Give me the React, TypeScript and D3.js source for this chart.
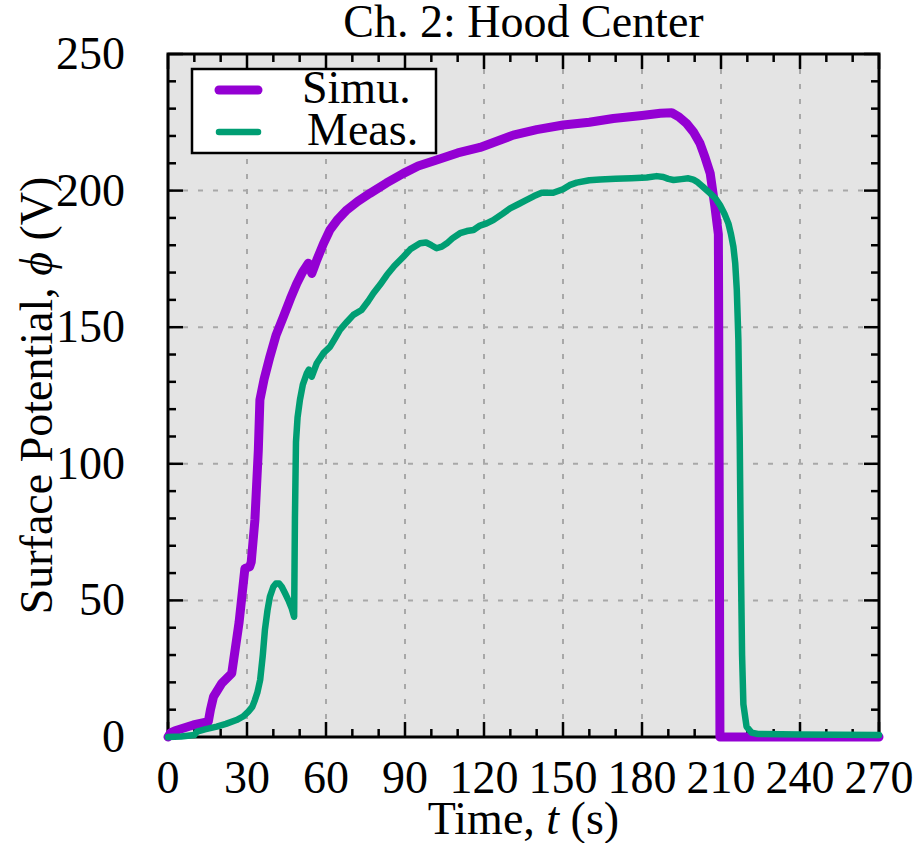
import React from "react";
import * as d3 from "d3";

// ---- Data ----
const simuT = [0, 1, 2.7, 9.6, 15.3, 16.1, 17.3, 20.4, 24.2, 27, 29.2, 31, 31.6, 33, 34.3, 34.9, 36.5, 38.7, 41, 43.8, 46.5, 48.9, 51, 53.3, 54.6, 55.5, 56.5, 59, 61.5, 64.5, 67.9, 72, 76.7, 83, 89.4, 95, 102, 110, 118.5, 131.1, 140, 150.1, 160, 169.1, 180, 187, 191.3, 194, 196.9, 199.5, 202, 204, 205.9, 207.7, 209, 209.1, 209.6, 270];
const simuV = [0, 1.5, 2.3, 4.4, 5.6, 9.9, 14.8, 19.6, 23.3, 42, 61.7, 62.3, 64, 79.4, 105, 123.4, 131, 139.2, 147, 153.8, 160.5, 166, 170, 173.4, 169.7, 172, 174.6, 180.5, 185.6, 189.5, 192.9, 196, 199, 202.8, 206.3, 209, 211.2, 213.8, 215.8, 220.3, 222.3, 224, 225, 226.4, 227.5, 228.3, 228.5, 227, 224.6, 221.5, 217.3, 212, 206.3, 194, 184, 160, 0, 0];

const measT = [0, 5, 10, 11, 14, 18.5, 22, 26, 28.5, 30.5, 32, 33, 34, 35, 36, 36.8, 37.8, 38.7, 40, 41, 42.2, 43.2, 44.5, 45.7, 47, 47.9, 48.2, 48.6, 49.2, 50.1, 51.2, 52.7, 53.5, 54.6, 56.5, 59, 61.5, 63.5, 65.3, 68, 70.4, 73.5, 76, 78, 80.5, 83.1, 86, 89.4, 92, 95.7, 98, 100, 102, 104, 105.9, 108, 110.9, 113.5, 116, 118.5, 121, 123.5, 127, 129.9, 133, 136.2, 139, 141.9, 146.3, 150, 152.5, 155.2, 160, 164.1, 170, 176, 181.8, 185.6, 188.1, 190, 192, 195, 197.6, 199.5, 200.8, 203, 205.9, 208, 209.6, 211.3, 212.8, 213.8, 214.7, 215.4, 216, 216.6, 217.1, 217.6, 218, 218.5, 219.7, 221.6, 224, 240, 270];
const measV = [0, 0.2, 0.7, 2, 2.8, 3.8, 4.8, 6.2, 7.5, 9.3, 11, 13.5, 16.5, 20.9, 30, 39.2, 46.5, 51.4, 55, 56.2, 56.2, 55, 52.5, 50.1, 47, 44, 80, 108, 117, 123.4, 129, 133.1, 134.5, 131.9, 136.8, 140.5, 142.8, 146, 149, 152, 154.5, 156.3, 159.5, 162.4, 165.5, 169.1, 172.5, 175.8, 178.5, 180.7, 181, 180, 178.9, 179.5, 180.7, 182.5, 184.4, 185.2, 185.6, 187.2, 188, 189.2, 191.5, 193.5, 195, 196.6, 198, 199.2, 199.2, 200.5, 202, 202.9, 203.8, 204.1, 204.3, 204.5, 204.8, 205.3, 205, 204.3, 203.9, 204.2, 204.5, 204, 203.3, 201.5, 199, 197, 194.7, 191.5, 188, 184, 179.5, 173.4, 163.6, 145.3, 110, 60, 30, 12, 3.8, 1.6, 1.1, 0.9, 0.7];

const xMajor = [0, 30, 60, 90, 120, 150, 180, 210, 240, 270];
const yMajor = [0, 50, 100, 150, 200, 250];
const xMinor = d3.range(0, 271, 10);
const yMinor = d3.range(0, 251, 10);
const xGrid = [30, 60, 90, 120, 150, 180, 210, 240];
const yGrid = [50, 100, 150, 200];

const seriesNames = ["Simu.", "Meas."];
const seriesColors = ["#9400d3", "#009e73"];
const seriesWidths = [9, 6.5];

const FONT = "'Liberation Serif', 'Times New Roman', serif";

export default function App() {
  const W = 918, H = 843;
  const L = 168, R = 879, T = 54, B = 737;
  const x = d3.scaleLinear().domain([0, 270]).range([L, R]);
  const y = d3.scaleLinear().domain([0, 250]).range([B, T]);
  const line = d3.line<[number, number]>().x(d => x(d[0])).y(d => y(d[1]));
  const simu: [number, number][] = simuT.map((t, i) => [t, simuV[i]]);
  const meas: [number, number][] = measT.map((t, i) => [t, measV[i]]);
  const series = [simu, meas];
  const majorLen = 15, minorLen = 8;

  return (
    <svg width={W} height={H} style={{ position: "absolute", left: 0, top: 0, display: "block", background: "#fff" }} fontFamily={FONT}>
      <rect x={L} y={T} width={R - L} height={B - T} fill="#e4e4e4" />
      {xGrid.map(v => (
        <line key={"gx" + v} x1={x(v)} x2={x(v)} y1={T} y2={B} stroke="#a8a8a8" strokeWidth={2} strokeDasharray="5,10" />
      ))}
      {yGrid.map(v => (
        <line key={"gy" + v} x1={L} x2={R} y1={y(v)} y2={y(v)} stroke="#a8a8a8" strokeWidth={2} strokeDasharray="5,10" />
      ))}
      {/* ticks */}
      {xMinor.map(v => {
        const len = v % 30 === 0 ? majorLen : minorLen;
        return (
          <g key={"tx" + v} stroke="#000" strokeWidth={2.5}>
            <line x1={x(v)} x2={x(v)} y1={B} y2={B - len} />
            <line x1={x(v)} x2={x(v)} y1={T} y2={T + len} />
          </g>
        );
      })}
      {yMinor.map(v => {
        const len = v % 50 === 0 ? majorLen : minorLen;
        return (
          <g key={"ty" + v} stroke="#000" strokeWidth={2.5}>
            <line x1={L} x2={L + len} y1={y(v)} y2={y(v)} />
            <line x1={R} x2={R - len} y1={y(v)} y2={y(v)} />
          </g>
        );
      })}
      <rect x={L} y={T} width={R - L} height={B - T} fill="none" stroke="#000" strokeWidth={3} />
      {/* legend */}
      <rect x={192} y={69} width={244} height={84} fill="#fff" stroke="#000" strokeWidth={2.5} />
      {seriesNames.map((n, i) => (
        <g key={n}>
          <line x1={219} x2={258} y1={90 + i * 42} y2={90 + i * 42} stroke={seriesColors[i]} strokeWidth={seriesWidths[i]} strokeLinecap="round" />
          <text x={i === 0 ? 302 : 307} y={103 + i * 42} fontSize={46}>{n}</text>
        </g>
      ))}
      {/* curves */}
      {series.map((s, i) => (
        <path key={"s" + i} d={line(s) || ""} fill="none" stroke={seriesColors[i]} strokeWidth={seriesWidths[i]} strokeLinejoin="round" strokeLinecap="round" />
      ))}
      {/* tick labels */}
      {xMajor.map(v => (
        <text key={"lx" + v} x={x(v)} y={793} fontSize={46} textAnchor="middle">{v}</text>
      ))}
      {yMajor.map(v => (
        <text key={"ly" + v} x={125} y={y(v) + 15} fontSize={46} textAnchor="end">{v}</text>
      ))}
      {/* titles */}
      <text x={(L + R) / 2} y={37} fontSize={46} textAnchor="middle">Ch. 2: Hood Center</text>
      <text x={(L + R) / 2} y={834} fontSize={46} textAnchor="middle">
        Time, <tspan fontStyle="italic">t</tspan> (s)
      </text>
      <text transform={`translate(52,${(T + B) / 2}) rotate(-90)`} fontSize={46} textAnchor="middle">
        Surface Potential, <tspan fontStyle="italic">ϕ</tspan> (V)
      </text>
    </svg>
  );
}
